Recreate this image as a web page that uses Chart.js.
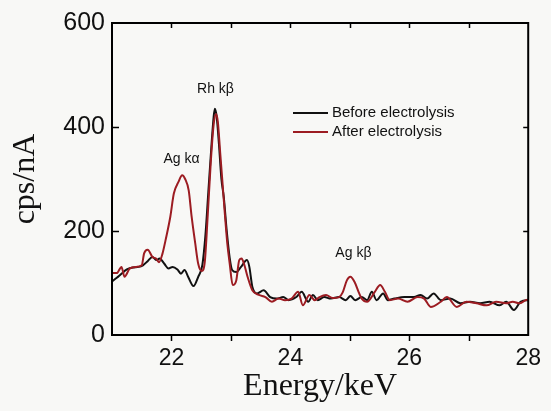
<!DOCTYPE html>
<html>
<head>
<meta charset="utf-8">
<script src="https://cdn.jsdelivr.net/npm/chart.js@4"></script>
<style>
  html, body { margin: 0; padding: 0; background: #f8f8f6; }
  canvas { display: block; }
</style>
</head>
<body>
<canvas id="xrf" width="551" height="411"></canvas>
<script>
// spectrum (energy in keV, counts in cps/nA)
const beforeEnergy = [21.00, 21.08, 21.15, 21.25, 21.35, 21.45, 21.52, 21.60, 21.68, 21.75, 21.80, 21.88, 21.95, 22.02, 22.10, 22.16, 22.22, 22.28, 22.37, 22.45, 22.52, 22.57, 22.62, 22.67, 22.71, 22.73, 22.76, 22.80, 22.84, 22.88, 22.93, 22.98, 23.02, 23.09, 23.17, 23.27, 23.31, 23.36, 23.44, 23.55, 23.66, 23.77, 23.88, 23.97, 24.10, 24.19, 24.30, 24.38, 24.46, 24.57, 24.68, 24.82, 24.93, 25.01, 25.09, 25.20, 25.29, 25.37, 25.45, 25.56, 25.64, 25.75, 25.92, 26.08, 26.19, 26.30, 26.41, 26.53, 26.69, 26.86, 27.02, 27.19, 27.35, 27.52, 27.63, 27.76, 27.87, 27.98, 28.00];
const beforeCps = [103, 110, 117, 126, 130, 131, 134, 142, 150, 144, 147, 137, 128, 131, 126, 118, 125, 112, 94, 112, 135, 190, 275, 360, 420, 435, 420, 365, 300, 265, 200, 148, 125, 121, 131, 144, 131, 93, 80, 86, 73, 70, 73, 67, 73, 83, 64, 77, 67, 73, 70, 73, 67, 75, 67, 73, 67, 83, 67, 80, 67, 70, 73, 73, 77, 70, 80, 67, 70, 61, 64, 61, 64, 57, 64, 48, 64, 67, 66];

const afterEnergy = [21.00, 21.08, 21.16, 21.21, 21.30, 21.41, 21.50, 21.54, 21.60, 21.68, 21.74, 21.79, 21.85, 21.90, 21.98, 22.04, 22.12, 22.18, 22.23, 22.29, 22.34, 22.40, 22.45, 22.51, 22.56, 22.61, 22.66, 22.71, 22.75, 22.78, 22.82, 22.86, 22.90, 22.94, 22.98, 23.03, 23.09, 23.14, 23.18, 23.22, 23.28, 23.36, 23.47, 23.58, 23.69, 23.80, 23.91, 24.02, 24.13, 24.21, 24.32, 24.41, 24.49, 24.60, 24.71, 24.82, 24.88, 24.95, 25.01, 25.08, 25.15, 25.20, 25.29, 25.42, 25.51, 25.59, 25.67, 25.81, 25.97, 26.14, 26.25, 26.36, 26.53, 26.63, 26.80, 26.96, 27.13, 27.30, 27.46, 27.63, 27.74, 27.85, 27.96, 28.00];
const afterCps = [119, 119, 131, 112, 128, 131, 134, 157, 164, 150, 147, 140, 157, 182, 227, 272, 295, 307, 300, 278, 227, 176, 137, 123, 140, 230, 330, 405, 425, 410, 350, 290, 230, 175, 137, 96, 105, 144, 147, 137, 112, 86, 77, 73, 64, 70, 67, 70, 83, 57, 77, 67, 73, 77, 71, 73, 82, 105, 112, 102, 82, 70, 64, 83, 96, 83, 67, 70, 64, 73, 70, 54, 64, 73, 54, 64, 61, 57, 64, 61, 64, 61, 67, 68];

const seriesLabels = ['Before electrolysis', 'After electrolysis'];
const seriesColors = ['#111111', '#9c1c22'];

const xTicks = [22, 24, 26, 28];
const xMinorTicks = [22, 23, 24, 25, 26, 27];
const yTicks = [0, 200, 400, 600];
const yMinorTicks = [200, 400];

const peakNames = ['Rh k\u03B2', 'Ag k\u03B1', 'Ag k\u03B2'];
const peakLabelX = [22.74, 22.17, 25.06];
const peakLabelY = [473, 339, 157];

const toPoints = (xs, ys) => xs.map((x, i) => ({ x: x, y: ys[i] }));

// box frame, tick marks, peak names and the small legend
const decorations = {
  id: 'decorations',
  afterDatasetsDraw(chart) {
    const { ctx, chartArea: a, scales: { x, y } } = chart;
    ctx.save();
    ctx.strokeStyle = '#000';
    ctx.lineWidth = 2;
    ctx.strokeRect(a.left, a.top, a.right - a.left, a.bottom - a.top);

    ctx.lineWidth = 1.5;
    ctx.beginPath();
    xMinorTicks.forEach((v) => {
      const px = Math.round(x.getPixelForValue(v)) + 0.5;
      ctx.moveTo(px, a.bottom); ctx.lineTo(px, a.bottom + 6);
      ctx.moveTo(px, a.top); ctx.lineTo(px, a.top + 5);
    });
    yMinorTicks.forEach((v) => {
      const py = Math.round(y.getPixelForValue(v)) + 0.5;
      ctx.moveTo(a.left, py); ctx.lineTo(a.left + 7, py);
      ctx.moveTo(a.right, py); ctx.lineTo(a.right - 5, py);
    });
    ctx.stroke();

    ctx.fillStyle = '#111';
    ctx.font = '14px "Liberation Sans", Arial, sans-serif';
    ctx.textAlign = 'center';
    ctx.textBaseline = 'middle';
    peakNames.forEach((t, i) => {
      ctx.fillText(t, x.getPixelForValue(peakLabelX[i]), y.getPixelForValue(peakLabelY[i]));
    });

    // legend
    ctx.font = '15px "Liberation Sans", Arial, sans-serif';
    ctx.textAlign = 'left';
    seriesLabels.forEach((t, i) => {
      const ly = 113 + i * 19;
      ctx.strokeStyle = seriesColors[i];
      ctx.lineWidth = 2;
      ctx.beginPath();
      ctx.moveTo(293, ly); ctx.lineTo(328, ly);
      ctx.stroke();
      ctx.fillText(t, 332, ly);
    });
    ctx.restore();
  }
};

new Chart(document.getElementById('xrf'), {
  type: 'line',
  data: {
    datasets: [
      {
        label: seriesLabels[0],
        data: toPoints(beforeEnergy, beforeCps),
        borderColor: seriesColors[0],
        borderWidth: 2,
        pointRadius: 0,
        cubicInterpolationMode: 'monotone',
        order: 1
      },
      {
        label: seriesLabels[1],
        data: toPoints(afterEnergy, afterCps),
        borderColor: seriesColors[1],
        borderWidth: 2,
        pointRadius: 0,
        cubicInterpolationMode: 'monotone',
        order: 0
      }
    ]
  },
  options: {
    responsive: false,
    animation: false,
    events: [],
    layout: { padding: { top: 23, right: 15, left: 0, bottom: 0 } },
    plugins: { legend: { display: false }, tooltip: { enabled: false } },
    scales: {
      x: {
        type: 'linear',
        min: 21,
        max: 28,
        afterBuildTicks: (s) => { s.ticks = xTicks.map((v) => ({ value: v })); },
        afterFit: (s) => { s.height = 76; },
        grid: { display: false, drawTicks: false },
        border: { display: false },
        ticks: {
          color: '#111',
          padding: 10,
          maxRotation: 0,
          font: { family: '"Liberation Sans", Arial, sans-serif', size: 23 }
        },
        title: {
          display: true,
          text: 'Energy/keV',
          color: '#111',
          padding: { top: 0, bottom: 5 },
          font: { family: '"Liberation Serif", "Times New Roman", serif', size: 32 }
        }
      },
      y: {
        min: 0,
        max: 600,
        afterBuildTicks: (s) => { s.ticks = yTicks.map((v) => ({ value: v })); },
        afterFit: (s) => { s.width = 112; },
        grid: { display: false, drawTicks: false },
        border: { display: false },
        ticks: {
          color: '#111',
          padding: 7,
          font: { family: '"Liberation Sans", Arial, sans-serif', size: 25 }
        },
        title: {
          display: true,
          text: 'cps/nA',
          color: '#111',
          padding: { top: 6, bottom: 0 },
          font: { family: '"Liberation Serif", "Times New Roman", serif', size: 32 }
        }
      }
    }
  },
  plugins: [decorations]
});
</script>
</body>
</html>
